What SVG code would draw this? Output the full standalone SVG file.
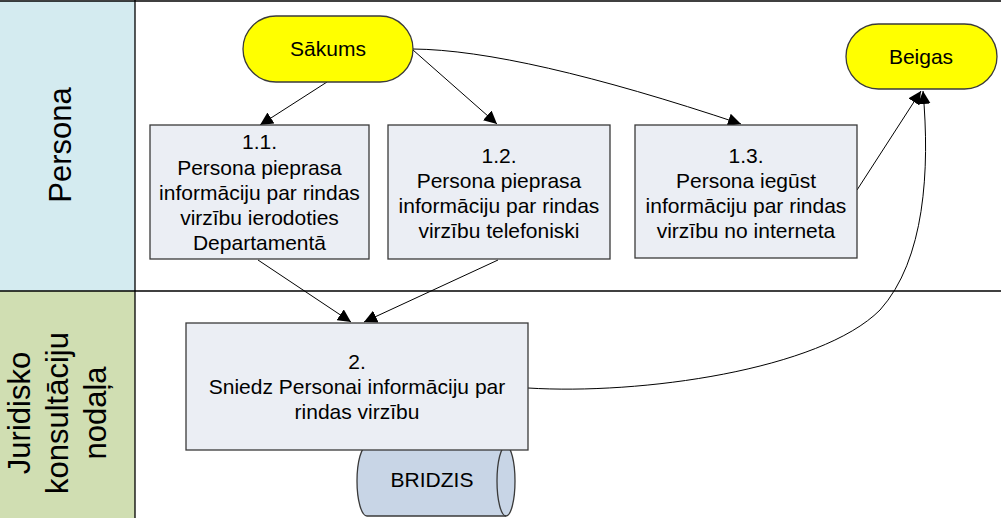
<svg xmlns="http://www.w3.org/2000/svg" width="1001" height="518" viewBox="0 0 1001 518">
<style>
text{font-family:"Liberation Sans",Arial,sans-serif;fill:#000}
.t{font-size:21px;text-anchor:middle}
.lane{font-size:31px;text-anchor:middle}
.box{fill:#EBEEF4;stroke:#3a3a3a;stroke-width:1.3}
.term{fill:#FFFF00;stroke:#3a3a3a;stroke-width:1.3}
.c{fill:none;stroke:#000;stroke-width:1;marker-end:url(#ah)}
.ln{stroke:#000;stroke-width:1.3;fill:none}
</style>
<defs>
<marker id="ah" markerUnits="userSpaceOnUse" markerWidth="13" markerHeight="13" refX="13" refY="6.5" orient="auto">
<path d="M0,0 L13,6.5 L0,13 z" fill="#000"/>
</marker>
</defs>
<rect width="1001" height="518" fill="#fff"/>
<g id="lanes">
<rect x="0" y="1" width="135" height="290" fill="#D4EBF0"/>
<rect x="0" y="291" width="135" height="227" fill="#D0DEB2"/>
<line class="ln" x1="0" y1="1" x2="1001" y2="1"/>
<line class="ln" x1="0" y1="291" x2="1001" y2="291"/>
<line class="ln" x1="135" y1="0" x2="135" y2="518"/>
<text class="lane" transform="translate(71,145) rotate(-90)">Persona</text>
<text class="lane" transform="translate(30,413) rotate(-90)">Juridisko</text>
<text class="lane" transform="translate(68,413) rotate(-90)">konsultāciju</text>
<text class="lane" transform="translate(106,413) rotate(-90)">nodaļa</text>
</g>
<g id="connectors">
<path class="c" d="M327 82 L260 125"/>
<path class="c" d="M413 50 L497 124"/>
<path class="c" d="M413 49 Q520 50 741 124"/>
<path class="c" d="M857 190 L921 91"/>
<path class="c" d="M258 260 L351 322"/>
<path class="c" d="M498 260 L364 322"/>
<path class="c" d="M528 388 C640 395 820 370 880 310 C925 260 930 170 923 91"/>
</g>
<g id="sakums">
<rect class="term" x="243" y="16" width="170" height="66" rx="33"/>
<text class="t" x="328" y="56">Sākums</text>
</g>
<g id="beigas">
<rect class="term" x="846" y="24" width="151" height="65" rx="32.5"/>
<text class="t" x="921" y="64">Beigas</text>
</g>
<g id="n11">
<rect class="box" x="150" y="125" width="219" height="134"/>
<text class="t"><tspan x="259.5" y="149">1.1.</tspan><tspan x="259.5" y="175">Persona pieprasa</tspan><tspan x="259.5" y="200">informāciju par rindas</tspan><tspan x="259.5" y="225">virzību ierodoties</tspan><tspan x="259.5" y="250">Departamentā</tspan></text>
</g>
<g id="n12">
<rect class="box" x="388" y="125" width="222" height="134"/>
<text class="t"><tspan x="499" y="163">1.2.</tspan><tspan x="499" y="188">Persona pieprasa</tspan><tspan x="499" y="213">informāciju par rindas</tspan><tspan x="499" y="238">virzību telefoniski</tspan></text>
</g>
<g id="n13">
<rect class="box" x="635" y="125" width="222" height="133"/>
<text class="t"><tspan x="746" y="163">1.3.</tspan><tspan x="746" y="188">Persona iegūst</tspan><tspan x="746" y="213">informāciju par rindas</tspan><tspan x="746" y="238">virzību no interneta</tspan></text>
</g>
<g id="bridzis">
<path d="M367 446 L506 446 A9 35 0 0 1 506 516 L367 516 A10 35 0 0 1 367 446 Z" fill="#C8D5E6" stroke="#3a3a3a" stroke-width="1.3"/>
<path d="M506 446 A9 35 0 0 0 506 516" fill="none" stroke="#3a3a3a" stroke-width="1.3"/>
<text class="t" x="432" y="487">BRIDZIS</text>
</g>
<g id="n2">
<rect class="box" x="186" y="323" width="342" height="127"/>
<text class="t"><tspan x="357" y="369">2.</tspan><tspan x="357" y="394">Sniedz Personai informāciju par</tspan><tspan x="357" y="419">rindas virzību</tspan></text>
</g>
</svg>
